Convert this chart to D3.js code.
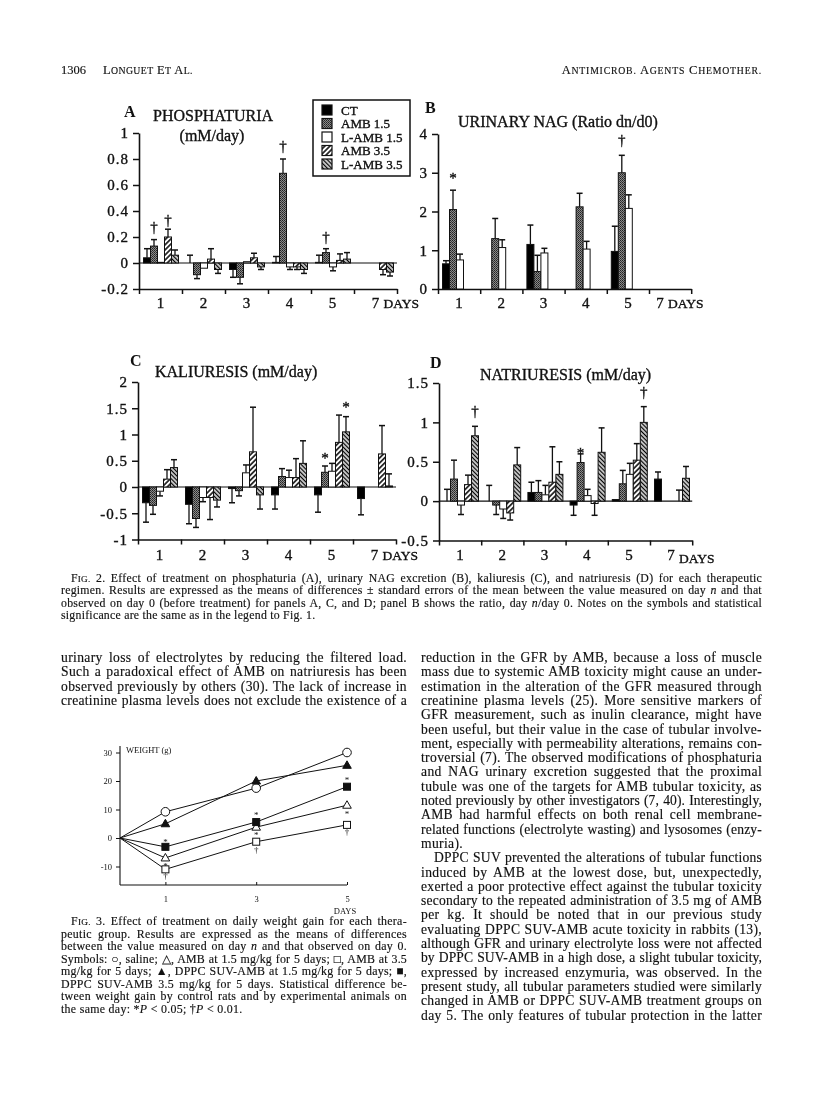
<!DOCTYPE html>
<html><head><meta charset="utf-8">
<script src="https://cdn.jsdelivr.net/npm/d3@7"></script>
<style>
html,body{margin:0;padding:0;background:#fff;}
svg{display:block;filter:grayscale(100%);}
text{font-family:"Liberation Serif","Times New Roman",serif;fill:#111;}
.heavy{stroke:#111;stroke-width:0.35px;}
.body{stroke:#111;stroke-width:0.15px;}
</style></head><body>
<svg id="page" width="816" height="1120"></svg>
<script>
// ---------------- DATA ----------------
const days = ["1","2","3","4","5","7"];
const seriesNames = ["CT","AMB 1.5","L-AMB 1.5","AMB 3.5","L-AMB 3.5"];

// Panel A: phosphaturia (mM/day), mean and SE
const phosCT    = [0.04, 0.00, -0.05, 0.005, 0.005, null];
const phosCTse  = [0.07, 0.06, 0.06, 0.045, 0.055, null];
const phosA15   = [0.13, -0.09, -0.11, 0.69, 0.08, null];
const phosA15se = [0.05, 0.03, 0.05, 0.11, 0.03, null];
const phosL15   = [0.005, -0.04, 0.01, -0.03, -0.03, 0.0];
const phosL15se = [0, 0, 0, 0.02, 0.03, 0];
const phosA35   = [0.20, 0.03, 0.04, -0.03, 0.02, -0.05];
const phosA35se = [0.06, 0.08, 0.035, 0.02, 0.05, 0.04];
const phosL35   = [0.06, -0.05, -0.03, -0.05, 0.03, -0.07];
const phosL35se = [0.04, 0.03, 0.02, 0.03, 0.05, 0.03];
const phosMarks = [["1","AMB 1.5",0.28,"†"],["1","AMB 3.5",0.33,"†"],["4","AMB 1.5",0.9,"†"],["5","AMB 1.5",0.2,"†"]];

// Panel B: urinary NAG (ratio dn/d0)
const nagCT    = [0.65, null, 1.15, null, 0.97, null];
const nagCTse  = [0.08, null, 0.50, null, 0.65, null];
const nagA15   = [2.05, 1.30, 0.45, 2.12, 3.00, null];
const nagA15se = [0.50, 0.52, 0.42, 0.35, 0.45, null];
const nagL15   = [0.75, 1.07, 0.93, 1.03, 2.08, null];
const nagL15se = [0.15, 0.20, 0.12, 0.20, 0.35, null];
const nagA35   = [null, null, null, null, null, null];
const nagL35   = [null, null, null, null, null, null];
const nagMarks = [["1","AMB 1.5",2.98,"*"],["5","AMB 1.5",3.85,"†"]];

// Panel C: kaliuresis (mM/day)
const kalCT    = [-0.30, -0.33, -0.03, -0.15, -0.15, -0.22];
const kalCTse  = [0.37, 0.37, 0.27, 0.27, 0.33, 0.31];
const kalA15   = [-0.35, -0.60, -0.07, 0.20, 0.28, null];
const kalA15se = [0.17, 0.17, 0.10, 0.15, 0.12, null];
const kalL15   = [-0.08, -0.20, 0.27, 0.18, 0.30, null];
const kalL15se = [0.09, 0.08, 0.15, 0.14, 0.15, null];
const kalA35   = [0.15, -0.20, 0.67, 0.18, 0.85, 0.63];
const kalA35se = [0.18, 0.42, 0.85, 0.36, 0.52, 0.54];
const kalL35   = [0.37, -0.25, -0.15, 0.45, 1.05, 0.02];
const kalL35se = [0.15, 0.13, 0.27, 0.43, 0.29, 0.23];
const kalMarks = [["5","AMB 1.5",0.62,"*"],["5","L-AMB 3.5",1.6,"*"]];

// Panel D: natriuresis (mM/day)
const natCT    = [0.00, 0.00, 0.11, -0.05, 0.02, 0.28];
const natCTse  = [0.15, 0.20, 0.13, 0.13, 0.00, 0.09];
const natA15   = [0.28, -0.05, 0.11, 0.49, 0.22, null];
const natA15se = [0.24, 0.12, 0.15, 0.11, 0.17, null];
const natL15   = [-0.05, -0.10, 0.08, 0.07, 0.34, null];
const natL15se = [0.12, 0.12, 0.12, 0.08, 0.14, null];
const natA35   = [0.21, -0.15, 0.24, -0.03, 0.52, 0.00];
const natA35se = [0.12, 0.09, 0.45, 0.15, 0.21, 0.14];
const natL35   = [0.83, 0.46, 0.34, 0.62, 1.00, 0.29];
const natL35se = [0.12, 0.22, 0.16, 0.31, 0.20, 0.15];
const natMarks = [["1","L-AMB 3.5",1.15,"†"],["4","AMB 1.5",0.66,"*"],["5","L-AMB 3.5",1.38,"†"]];

// Fig 3: weight gain (g)
const weightDays = [0, 1, 3, 5];
const wSaline = [0, 9.2, 17.5, 30];
const wAMB15  = [0, -7, 3.8, 11.5];
const wAMB35  = [0, -11, -1.3, 4.6];
const wDPPC15 = [0, 5, 20, 25.5];
const wDPPC35 = [0, -3.1, 5.6, 18];
const weightTicks = [-10, 0, 10, 20, 30];
const weightMarks = [[1,-0.8,"*"],[1,-9,"*"],[1,-13.5,"†"],[3,8.6,"*"],[3,1.8,"*"],[3,-4.2,"†"],[5,21,"*"],[5,9.2,"*"],[5,2.2,"†"]];

// ---------------- TEXT ----------------
const headLeftNum = "1306";
const headLeft = "L~ONGUET~ E~T~ A~L.~";
const headRight = "A~NTIMICROB.~ A~GENTS~ C~HEMOTHER.~";
const fig2Caption = [
 "F~IG.~ 2. Effect of treatment on phosphaturia (A), urinary NAG excretion (B), kaliuresis (C), and natriuresis (D) for each therapeutic",
 "regimen. Results are expressed as the means of differences ± standard errors of the mean between the value measured on day _n_ and that",
 "observed on day 0 (before treatment) for panels A, C, and D; panel B shows the ratio, day _n_/day 0. Notes on the symbols and statistical",
 "significance are the same as in the legend to Fig. 1."
];
const leftBody = [
 "urinary loss of electrolytes by reducing the filtered load.",
 "Such a paradoxical effect of AMB on natriuresis has been",
 "observed previously by others (30). The lack of increase in",
 "creatinine plasma levels does not exclude the existence of a"
];
const rightBody = [
 "reduction in the GFR by AMB, because a loss of muscle",
 "mass due to systemic AMB toxicity might cause an under-",
 "estimation in the alteration of the GFR measured through",
 "creatinine plasma levels (25). More sensitive markers of",
 "GFR measurement, such as inulin clearance, might have",
 "been useful, but their value in the case of tubular involve-",
 "ment, especially with permeability alterations, remains con-",
 "troversial (7). The observed modifications of phosphaturia",
 "and NAG urinary excretion suggested that the proximal",
 "tubule was one of the targets for AMB tubular toxicity, as",
 "noted previously by other investigators (7, 40). Interestingly,",
 "AMB had harmful effects on both renal cell membrane-",
 "related functions (electrolyte wasting) and lysosomes (enzy-",
 "muria).",
 "DPPC SUV prevented the alterations of tubular functions",
 "induced by AMB at the lowest dose, but, unexpectedly,",
 "exerted a poor protective effect against the tubular toxicity",
 "secondary to the repeated administration of 3.5 mg of AMB",
 "per kg. It should be noted that in our previous study",
 "evaluating DPPC SUV-AMB acute toxicity in rabbits (13),",
 "although GFR and urinary electrolyte loss were not affected",
 "by DPPC SUV-AMB in a high dose, a slight tubular toxicity,",
 "expressed by increased enzymuria, was observed. In the",
 "present study, all tubular parameters studied were similarly",
 "changed in AMB or DPPC SUV-AMB treatment groups on",
 "day 5. The only features of tubular protection in the latter"
];
const fig3Caption = [
 "F~IG.~ 3. Effect of treatment on daily weight gain for each thera-",
 "peutic group. Results are expressed as the means of differences",
 "between the value measured on day _n_ and that observed on day 0.",
 "Symbols: ○, saline; △, AMB at 1.5 mg/kg for 5 days; □, AMB at 3.5",
 "mg/kg for 5 days; ▲, DPPC SUV-AMB at 1.5 mg/kg for 5 days; ■,",
 "DPPC SUV-AMB 3.5 mg/kg for 5 days. Statistical difference be-",
 "tween weight gain by control rats and by experimental animals on",
 "the same day: *_P_ < 0.05; †_P_ < 0.01."
];

// ---------------- DRAW ----------------
const svg = d3.select("#page");
svg.append("rect").attr("width",816).attr("height",1120).attr("fill","#fff");
const defs = svg.append("defs");
const st = defs.append("pattern").attr("id","stip").attr("patternUnits","userSpaceOnUse").attr("width",2).attr("height",2);
st.append("rect").attr("width",2).attr("height",2).attr("fill","#8a8a8a");
st.append("rect").attr("width",1).attr("height",1).attr("fill","#222");
st.append("rect").attr("x",1).attr("y",1).attr("width",1).attr("height",1).attr("fill","#3a3a3a");
function hatch(id, ang, sp, sw){
  const p = defs.append("pattern").attr("id",id).attr("patternUnits","userSpaceOnUse")
    .attr("width",sp).attr("height",sp).attr("patternTransform",`rotate(${ang})`);
  p.append("rect").attr("width",sp).attr("height",sp).attr("fill","#fff");
  p.append("line").attr("x1",sp/2).attr("x2",sp/2).attr("y1",0).attr("y2",sp).attr("stroke","#000").attr("stroke-width",sw);
}
hatch("hatchR",45,3.6,1.5);
hatch("hatchL",-45,3.0,1.5);
const fills = {"CT":"#000","AMB 1.5":"url(#stip)","L-AMB 1.5":"#fff","AMB 3.5":"url(#hatchR)","L-AMB 3.5":"url(#hatchL)"};

function parseSegs(str){
  const segs=[]; let cur="", it=false, sm=false;
  for(const ch of str){
    if(ch==="_"||ch==="~"){ if(cur) segs.push({t:cur,i:it,s:sm}); cur=""; if(ch==="_") it=!it; else sm=!sm; }
    else cur+=ch;
  }
  if(cur) segs.push({t:cur,i:it,s:sm});
  return segs;
}
// one line of text; opt.w justifies the line to that width (word spacing, letter spacing if needed)
function textLine(x,y,str,size,opt={}){
  const t=svg.append("text").attr("x",x).attr("y",y).attr("font-size",size).attr("class","body");
  if(opt.anchor) t.attr("text-anchor",opt.anchor);
  let ls=opt.ls||0;
  t.attr("letter-spacing",ls);
  parseSegs(str).forEach(s=>{
    const ts=t.append("tspan").text(s.t);
    if(s.i) ts.attr("font-style","italic");
    if(s.s) ts.attr("font-size",size*0.78);
  });
  if(opt.w){
    const plain=str.replace(/[_~]/g,"");
    const spaces=(plain.match(/ /g)||[]).length;
    const chars=plain.length;
    let nat=t.node().getComputedTextLength();
    const minWs=0.6*spaces;
    if(opt.w-nat<minWs || opt.w-nat>spaces*4.5){
      const target=opt.w-nat<minWs?minWs:spaces*4.5;
      ls=Math.max(-0.4,Math.min(1.0,ls+((opt.w-nat)-target)/chars));
      t.attr("letter-spacing",ls.toFixed(3));
      nat=t.node().getComputedTextLength();
    }
    if(spaces>0) t.attr("word-spacing",((opt.w-nat)/spaces).toFixed(2));
  }
  return t;
}
function styleAxis(a,fs){
  a.attr("font-family",null).attr("font-size",null);
  a.select(".domain").attr("stroke","#111").attr("stroke-width",1.6);
  a.selectAll(".tick line").attr("stroke","#111").attr("stroke-width",1.5);
  a.selectAll(".tick text").attr("fill","#111").attr("font-size",fs).attr("letter-spacing",1).attr("class","heavy");
}

function drawPanel(c){
  const g=svg.append("g");
  const n=days.length;
  const y=d3.scaleLinear().domain([c.min,c.max]).range([c.yBottom,c.yTop]);
  const x0=d3.scaleBand().domain(days).range([c.x,c.x+c.gw*n]);
  const x1=d3.scaleBand().domain(seriesNames).range([4.5,4.5+7*seriesNames.length]);
  const xi=d3.scaleLinear().domain([0,n]).range([c.x,c.x+c.gw*n]);
  const ya=g.append("g").attr("transform",`translate(${c.x},0)`)
    .call(d3.axisLeft(y).tickValues(c.ticks).tickSize(6).tickSizeOuter(0).tickPadding(4).tickFormat(d=>String(d)));
  styleAxis(ya,15);
  const xa=g.append("g").attr("transform",`translate(0,${y(c.min)})`)
    .call(d3.axisBottom(xi).tickValues(d3.range(n+1)).tickSize(5).tickSizeOuter(0).tickFormat(""));
  styleAxis(xa,15);
  if(c.min<0) g.append("line").attr("x1",c.x).attr("x2",c.x+c.gw*n).attr("y1",y(0)).attr("y2",y(0))
    .attr("stroke","#111").attr("stroke-width",1.1);
  days.forEach((d,i)=>{
    const cx=x0(d)+x0.bandwidth()/2+(i===n-1?c.lastShift:0);
    g.append("text").attr("x",cx).attr("y",c.labelY).attr("text-anchor","middle").attr("font-size",15).attr("class","heavy").text(d);
    if(i===n-1) g.append("text").attr("x",cx+8).attr("y",c.labelY+(c.daysDy||0)).attr("font-size",13.5).attr("class","heavy").text("DAYS");
  });
  c.series.forEach((s,si)=>{
    const name=seriesNames[si], bw=x1.bandwidth();
    s.v.forEach((v,i)=>{
      if(v==null) return;
      const bx=x0(days[i])+x1(name);
      const e=s.e?s.e[i]:0;
      if(e){
        const tip=v+(v<0?-e:e);
        g.append("line").attr("x1",bx+bw/2).attr("x2",bx+bw/2).attr("y1",y(v)).attr("y2",y(tip)).attr("stroke","#111").attr("stroke-width",1.3);
        g.append("line").attr("x1",bx+0.5).attr("x2",bx+bw-0.5).attr("y1",y(tip)).attr("y2",y(tip)).attr("stroke","#111").attr("stroke-width",1.5);
      }
      g.append("rect").attr("x",bx).attr("width",bw).attr("y",Math.min(y(v),y(0))).attr("height",Math.abs(y(v)-y(0)))
        .attr("fill",fills[name]).attr("stroke","#111").attr("stroke-width",1);
    });
  });
  c.marks.forEach(m=>{
    const bx=x0(m[0])+x1(m[1])+x1.bandwidth()/2;
    g.append("text").attr("x",bx).attr("y",y(m[2])+(m[3]==="*"?9:5)).attr("text-anchor","middle").attr("font-size",15).attr("class","heavy").text(m[3]);
  });
  svg.append("text").attr("x",c.letter[0]).attr("y",c.letter[1]).attr("font-size",16).attr("font-weight","bold").text(c.letter[2]);
  c.titles.forEach(t=>svg.append("text").attr("x",t[0]).attr("y",t[1]).attr("font-size",16).attr("class","heavy").attr("text-anchor",t[3]||"start").text(t[2]));
}

drawPanel({x:139,gw:43,min:-0.2,max:1,yBottom:289,yTop:133,ticks:[-0.2,0,0.2,0.4,0.6,0.8,1],labelY:308,lastShift:0,
  series:[{v:phosCT,e:phosCTse},{v:phosA15,e:phosA15se},{v:phosL15,e:phosL15se},{v:phosA35,e:phosA35se},{v:phosL35,e:phosL35se}],
  marks:phosMarks,letter:[124,117,"A"],titles:[[153,121,"PHOSPHATURIA"],[212,141,"(mM/day)","middle"]]});
drawPanel({x:438,gw:42.2,min:0,max:4,yBottom:289,yTop:134,ticks:[0,1,2,3,4],labelY:308,lastShift:-10,
  series:[{v:nagCT,e:nagCTse},{v:nagA15,e:nagA15se},{v:nagL15,e:nagL15se},{v:nagA35},{v:nagL35}],
  marks:nagMarks,letter:[425,113,"B"],titles:[[458,127,"URINARY NAG (Ratio dn/d0)"]]});
drawPanel({x:138,gw:43,min:-1,max:2,yBottom:539.5,yTop:382,ticks:[-1,-0.5,0,0.5,1,1.5,2],labelY:559.5,lastShift:0,
  series:[{v:kalCT,e:kalCTse},{v:kalA15,e:kalA15se},{v:kalL15,e:kalL15se},{v:kalA35,e:kalA35se},{v:kalL35,e:kalL35se}],
  marks:kalMarks,letter:[130,366,"C"],titles:[[155,377,"KALIURESIS (mM/day)"]]});
drawPanel({x:439,gw:42.2,min:-0.5,max:1.5,yBottom:540.5,yTop:383,ticks:[-0.5,0,0.5,1,1.5],labelY:560,lastShift:0,daysDy:3,
  series:[{v:natCT,e:natCTse},{v:natA15,e:natA15se},{v:natL15,e:natL15se},{v:natA35,e:natA35se},{v:natL35,e:natL35se}],
  marks:natMarks,letter:[430,368,"D"],titles:[[480,380,"NATRIURESIS (mM/day)"]]});

// legend
const lg=svg.append("g");
lg.append("rect").attr("x",313).attr("y",100).attr("width",97).attr("height",76).attr("fill","#fff").attr("stroke","#111").attr("stroke-width",1.5);
seriesNames.forEach((s,i)=>{
  const yy=110+i*13.5;
  lg.append("rect").attr("x",322).attr("y",yy-5).attr("width",10).attr("height",10).attr("fill",fills[s]).attr("stroke","#111").attr("stroke-width",1.2);
  lg.append("text").attr("x",341).attr("y",yy+4.5).attr("font-size",13).attr("class","heavy").text(s);
});

// Fig 3 weight chart
const wg=svg.append("g");
const wx=d3.scaleLinear().domain([0,5]).range([120,347]);
const wy=d3.scaleLinear().domain([0,30]).range([838,752.5]);
const wya=wg.append("g").attr("transform","translate(120,0)")
  .call(d3.axisLeft(wy).tickValues(weightTicks).tickSize(4).tickSizeOuter(0).tickPadding(4).tickFormat(d=>String(d)));
wya.select(".domain").remove();
wya.attr("font-family",null).attr("font-size",null);
wya.selectAll(".tick line").attr("stroke","#111");
wya.selectAll(".tick text").attr("font-size",8.5).attr("fill","#111");
wg.append("line").attr("x1",120).attr("x2",120).attr("y1",746).attr("y2",885).attr("stroke","#111").attr("stroke-width",1.1);
const wxa=wg.append("g").attr("transform","translate(0,885)")
  .call(d3.axisBottom(wx).tickValues([1,3,5]).tickSize(-3).tickSizeOuter(0).tickPadding(11).tickFormat(d=>String(d)));
wxa.attr("font-family",null).attr("font-size",null);
wxa.select(".domain").attr("d","M120,0H347").attr("stroke","#111").attr("stroke-width",1.1);
wxa.selectAll(".tick line").attr("stroke","#111");
wxa.selectAll(".tick text").attr("font-size",8.5).attr("fill","#111");
wg.append("text").attr("x",345).attr("y",914).attr("text-anchor","middle").attr("font-size",8.5).text("DAYS");
wg.append("text").attr("x",126).attr("y",753).attr("font-size",8.5).text("WEIGHT (g)");
const wSeries=[{v:wSaline,m:"circle",f:"#fff"},{v:wAMB15,m:"tri",f:"#fff"},{v:wAMB35,m:"sq",f:"#fff"},{v:wDPPC15,m:"tri",f:"#111"},{v:wDPPC35,m:"sq",f:"#111"}];
const wline=d3.line().x((d,i)=>wx(weightDays[i])).y(d=>wy(d));
wSeries.forEach(s=>wg.append("path").attr("d",wline(s.v)).attr("fill","none").attr("stroke","#111").attr("stroke-width",1));
wSeries.forEach(s=>{
  s.v.forEach((v,i)=>{
    if(i===0) return;
    const px=wx(weightDays[i]), py=wy(v);
    let sh;
    if(s.m==="circle") sh=wg.append("circle").attr("cx",px).attr("cy",py).attr("r",4.3);
    else if(s.m==="sq") sh=wg.append("rect").attr("x",px-3.5).attr("y",py-3.5).attr("width",7).attr("height",7);
    else sh=wg.append("path").attr("d",`M${px},${py-4.5}L${px+4.3},${py+3}L${px-4.3},${py+3}Z`);
    sh.attr("fill",s.f).attr("stroke","#111").attr("stroke-width",1);
  });
});
weightMarks.forEach(m=>wg.append("text").attr("x",wx(m[0])).attr("y",wy(m[1])+(m[2]==="*"?5:3)).attr("text-anchor","middle").attr("font-size",9).text(m[2]));

// header
textLine(61,74,headLeftNum,12.5);
textLine(103,74,headLeft,12.5,{ls:0.4});
textLine(762,74,headRight,12.5,{anchor:"end",ls:0.8});

// Fig 2 caption (61-762)
const CL=61, CR=762;
fig2Caption.forEach((l,i)=>{
  const last=i===fig2Caption.length-1;
  const x=i===0?CL+10:CL;
  textLine(x, 581.5+i*12.5, l, 11.8, last?{ls:0.25}:{ls:0.25,w:CR-x});
});
// left column (61-407)
leftBody.forEach((l,i)=>textLine(CL,662+i*14.3,l,13.6,{ls:0.35,w:407-CL}));
// right column (421-762)
rightBody.forEach((l,i)=>{
  const noJ=(i===13);
  const x=(i===14)?434:421;
  textLine(x, 662+i*14.3, l, 13.6, noJ?{ls:0.35}:{ls:0.35,w:CR-x});
});
// Fig 3 caption (61-407)
fig3Caption.forEach((l,i)=>{
  const last=i===fig3Caption.length-1;
  const x=i===0?CL+10:CL;
  textLine(x, 925+i*12.5, l, 11.9, last?{ls:0.3}:{ls:0.3,w:407-x});
});
</script>
</body></html>
